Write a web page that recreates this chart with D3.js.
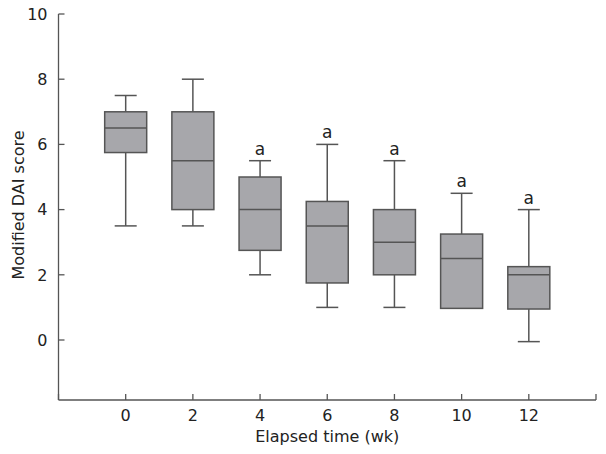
<!DOCTYPE html>
<html><head><meta charset="utf-8">
<script src="https://cdn.jsdelivr.net/npm/d3@7"></script>
<style>body{margin:0;background:#fff}svg{display:block}text{font-family:"DejaVu Sans",Verdana,sans-serif;fill:#222}</style>
</head><body><div id="c"></div>
<script>
const weeks = [0, 2, 4, 6, 8, 10, 12];
const whiskerLow = [3.5, 3.5, 2, 1, 1, 1, -0.05];
const q1 = [5.75, 4, 2.75, 1.75, 2, 0.97, 0.95];
const median = [6.5, 5.5, 4, 3.5, 3, 2.5, 2];
const q3 = [7, 7, 5, 4.25, 4, 3.25, 2.25];
const whiskerHigh = [7.5, 8, 5.5, 6, 5.5, 4.5, 4];
const marks = ["", "", "a", "a", "a", "a", "a"];
const xTicks = [-2, 0, 2, 4, 6, 8, 10, 12, 14];
const xTickLabels = ["", "0", "2", "4", "6", "8", "10", "12", ""];
const yTicks = [0, 2, 4, 6, 8, 10];

const W = 606, H = 454;
const svg = d3.select("#c").append("svg").attr("width", W).attr("height", H);
const x = d3.scaleLinear().domain([-2, 14]).range([58.5, 596]);
const y = d3.scaleLinear().domain([0, 10]).range([340, 14]);
const yBottom = 400;
const axisCol = "#555";

const g = svg.append("g");
// Y axis
g.append("line").attr("x1", x(-2)).attr("x2", x(-2)).attr("y1", y(10)).attr("y2", yBottom).attr("stroke", axisCol).attr("stroke-width", 1.3);
yTicks.forEach(t => {
  g.append("line").attr("x1", x(-2)).attr("x2", x(-2) + 6).attr("y1", y(t)).attr("y2", y(t)).attr("stroke", axisCol).attr("stroke-width", 1.3);
  g.append("text").attr("x", x(-2) - 11).attr("y", y(t)).attr("dy", "0.36em").attr("text-anchor", "end").attr("font-size", 16).text(t);
});
// X axis
g.append("line").attr("x1", x(-2)).attr("x2", x(14)).attr("y1", yBottom).attr("y2", yBottom).attr("stroke", axisCol).attr("stroke-width", 1.3);
xTicks.forEach((t, i) => {
  g.append("line").attr("x1", x(t)).attr("x2", x(t)).attr("y1", yBottom).attr("y2", yBottom - 6).attr("stroke", axisCol).attr("stroke-width", 1.3);
  g.append("text").attr("x", x(t)).attr("y", yBottom + 21).attr("text-anchor", "middle").attr("font-size", 16).text(xTickLabels[i]);
});
// titles
svg.append("text").attr("x", x(6)).attr("y", 442).attr("text-anchor", "middle").attr("font-size", 16).text("Elapsed time (wk)");
svg.append("text").attr("transform", "translate(24,205) rotate(-90)").attr("text-anchor", "middle").attr("font-size", 16).text("Modified DAI score");

// boxes
const bw = 42, cw = 22;
weeks.forEach((w, i) => {
  const cx = x(w);
  const bg = svg.append("g").attr("stroke", "#555").attr("stroke-width", 1.5);
  bg.append("line").attr("x1", cx).attr("x2", cx).attr("y1", y(whiskerHigh[i])).attr("y2", y(q3[i]));
  bg.append("line").attr("x1", cx).attr("x2", cx).attr("y1", y(q1[i])).attr("y2", y(whiskerLow[i]));
  bg.append("line").attr("x1", cx - cw / 2).attr("x2", cx + cw / 2).attr("y1", y(whiskerHigh[i])).attr("y2", y(whiskerHigh[i]));
  if (whiskerLow[i] < q1[i]) bg.append("line").attr("x1", cx - cw / 2).attr("x2", cx + cw / 2).attr("y1", y(whiskerLow[i])).attr("y2", y(whiskerLow[i]));
  bg.append("rect").attr("x", cx - bw / 2).attr("width", bw).attr("y", y(q3[i])).attr("height", y(q1[i]) - y(q3[i])).attr("fill", "#a7a7ab");
  bg.append("line").attr("x1", cx - bw / 2).attr("x2", cx + bw / 2).attr("y1", y(median[i])).attr("y2", y(median[i]));
  if (marks[i]) svg.append("text").attr("x", cx).attr("y", y(whiskerHigh[i]) - 6).attr("text-anchor", "middle").attr("font-size", 17).text(marks[i]);
});
</script></body></html>
